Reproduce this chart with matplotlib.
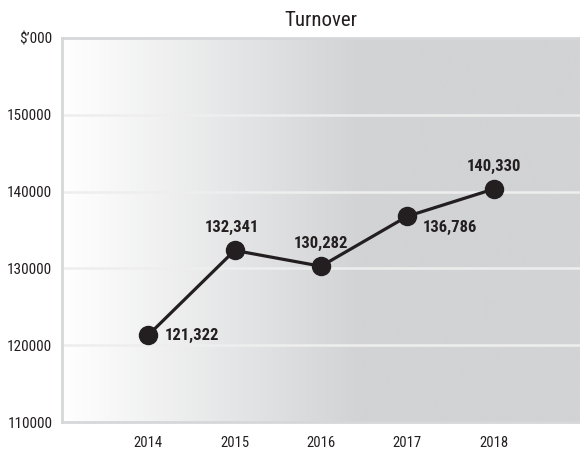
import numpy as np
import matplotlib
matplotlib.use("Agg")
import matplotlib.pyplot as plt
from matplotlib.colors import LinearSegmentedColormap

plt.rcParams['font.family'] = ['Roboto Condensed', 'Liberation Sans', 'DejaVu Sans']

years = [2014, 2015, 2016, 2017, 2018]
turnover = [121322, 132341, 130282, 136786, 140330]
value_labels = ["121,322", "132,341", "130,282", "136,786", "140,330"]
y_ticks = [110000, 120000, 130000, 140000, 150000, 160000]
y_tick_labels = ["110000", "120000", "130000", "140000", "150000", "$\u2019000"]

# where each value label sits relative to its point (offset points, ha, va)
label_pos = [
    ((12, 0), "left", "center"),
    ((-2, 11), "center", "bottom"),
    ((0, 11), "center", "bottom"),
    ((11, -8), "left", "center"),
    ((0, 11), "center", "bottom"),
]

grey = "#d2d3d5"
border = "#d6d7d9"
ink = "#231f20"

fig = plt.figure(figsize=(5.8, 4.5), dpi=100)
ax = fig.add_axes([62 / 580, 1 - 422 / 450, 1 - 62 / 580, (422 - 38) / 450])

# background gradient white -> grey
cmap = LinearSegmentedColormap.from_list("bg", [(0, "white"), (0.575, grey), (1, grey)])
grad = np.linspace(0, 1, 256).reshape(1, -1)
ax.imshow(grad, cmap=cmap, aspect="auto", extent=[0, 1, 0, 1],
          transform=ax.transAxes, zorder=0, interpolation="bicubic")

ax.set_xlim(2013, 2019)
ax.set_ylim(110000, 160000)

for yv in y_ticks[1:-1]:
    ax.axhline(yv, color="#eeeeee", lw=1.8, zorder=1)

ax.plot(years, turnover, color=ink, lw=2.3, marker="o", markersize=13,
        markerfacecolor=ink, markeredgecolor=ink, zorder=3)

for x, y, txt, (off, ha, va) in zip(years, turnover, value_labels, label_pos):
    ax.annotate(txt, (x, y), xytext=off, textcoords="offset points",
                ha=ha, va=va, fontsize=12, fontweight="bold", color=ink, zorder=4)

ax.set_xticks(years)
ax.set_xticklabels([str(y) for y in years], fontsize=10.5, color=ink)
ax.set_yticks(y_ticks)
ax.set_yticklabels(y_tick_labels, fontsize=11, color=ink)
ax.tick_params(axis="both", length=0)
ax.tick_params(axis="y", pad=7)
ax.tick_params(axis="x", pad=10)

for side in ["left", "top", "bottom"]:
    ax.spines[side].set_color(border)
    ax.spines[side].set_linewidth(2)
ax.spines["right"].set_visible(False)

ax.set_title("Turnover", fontsize=15, color=ink, pad=8.5)

fig.savefig("out.png", dpi=100)
